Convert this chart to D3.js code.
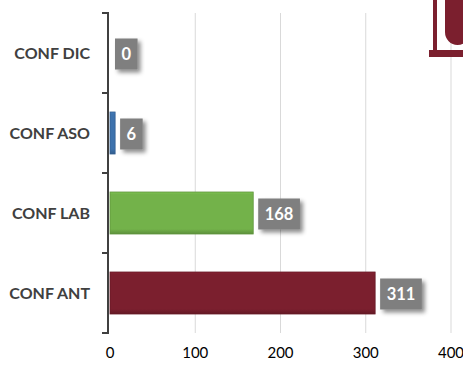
<!DOCTYPE html>
<html>
<head>
<meta charset="utf-8">
<script src="https://cdn.jsdelivr.net/npm/d3@7"></script>
<style>
  body { margin: 0; background: #fff; }
  svg { display: block; font-family: Lato, "Open Sans", sans-serif; }
</style>
</head>
<body>
<script>
// chart data
const categories = ['CONF DIC', 'CONF ASO', 'CONF LAB', 'CONF ANT'];
const values = [0, 6, 168, 311];
const barColors = ['#4f81bd', '#3d72ad', '#73b24a', '#7b1f2e'];
const xTicks = [0, 100, 200, 300, 400];

const W = 463, H = 369;
const plot = { left: 110, right: 451, top: 13, bottom: 333 };

const svg = d3.select('body').append('svg')
  .attr('width', W)
  .attr('height', H);

const defs = svg.append('defs');
const shadow = defs.append('filter').attr('id', 'shadow')
  .attr('x', '-30%').attr('y', '-30%').attr('width', '160%').attr('height', '160%');
shadow.append('feDropShadow')
  .attr('dx', 3).attr('dy', 3).attr('stdDeviation', 2)
  .attr('flood-color', '#000').attr('flood-opacity', 0.45);

// gradients for the bars: flat body, darker bottom edge
barColors.forEach((c, i) => {
  const g = defs.append('linearGradient').attr('id', 'grad' + i)
    .attr('x1', 0).attr('y1', 0).attr('x2', 0).attr('y2', 1);
  const base = d3.color(c);
  g.append('stop').attr('offset', '0%').attr('stop-color', base.brighter(0.25));
  g.append('stop').attr('offset', '6%').attr('stop-color', base);
  g.append('stop').attr('offset', '88%').attr('stop-color', base);
  g.append('stop').attr('offset', '100%').attr('stop-color', base.darker(0.6));
});

const x = d3.scaleLinear().domain([0, 400]).range([plot.left, plot.right]);
const yOuter = d3.scaleBand().domain(categories).range([plot.top, plot.bottom]);
const y = d3.scaleBand().domain(categories).range([plot.top, plot.bottom])
  .paddingInner(0.475).paddingOuter(0.2375);

// vertical gridlines
svg.append('g')
  .selectAll('line')
  .data(xTicks.slice(1))
  .join('line')
  .attr('x1', d => x(d)).attr('x2', d => x(d))
  .attr('y1', plot.top).attr('y2', plot.bottom)
  .attr('stroke', '#d9d9d9').attr('stroke-width', 1);

// x tick labels
svg.append('g')
  .selectAll('text')
  .data(xTicks)
  .join('text')
  .attr('x', d => x(d))
  .attr('y', 358)
  .attr('text-anchor', 'middle')
  .attr('font-size', 15)
  .attr('fill', '#000')
  .text(d => d);

// bars
svg.append('g')
  .selectAll('rect')
  .data(categories)
  .join('rect')
  .attr('x', x(0))
  .attr('y', d => y(d))
  .attr('width', (d, i) => x(values[i]) - x(0))
  .attr('height', y.bandwidth())
  .attr('fill', (d, i) => `url(#grad${i})`)
  .attr('stroke', (d, i) => d3.color(barColors[i]).darker(0.5))
  .attr('stroke-width', (d, i) => values[i] > 0 ? 0.8 : 0);

// y axis line and boundary ticks
const yAxis = svg.append('g');
const bounds = categories.map(c => yOuter(c)).concat([plot.bottom]);
yAxis.append('line')
  .attr('x1', 108).attr('x2', 108)
  .attr('y1', plot.top).attr('y2', plot.bottom)
  .attr('stroke', '#404040').attr('stroke-width', 2);
yAxis.selectAll('line.tick')
  .data(bounds)
  .join('line')
  .attr('class', 'tick')
  .attr('x1', 102).attr('x2', 109)
  .attr('y1', d => d).attr('y2', d => d)
  .attr('stroke', '#404040').attr('stroke-width', 2);

// category labels
svg.append('g')
  .selectAll('text')
  .data(categories)
  .join('text')
  .attr('x', 90)
  .attr('y', d => y(d) + y.bandwidth() / 2)
  .attr('dy', '0.36em')
  .attr('text-anchor', 'end')
  .attr('font-size', 16)
  .attr('font-weight', 'bold')
  .attr('fill', '#404040')
  .text(d => d);

// data labels in grey boxes
const labels = svg.append('g')
  .selectAll('g')
  .data(categories)
  .join('g')
  .attr('transform', (d, i) => `translate(${x(values[i]) + 5},${y(d) + y.bandwidth() / 2 + 1})`);

labels.each(function (d, i) {
  const g = d3.select(this);
  const rect = g.append('rect').attr('fill', '#7f7f7f').attr('filter', 'url(#shadow)');
  const t = g.append('text')
    .attr('font-size', 16.5)
    .attr('font-weight', 'bold')
    .attr('fill', '#fff')
    .attr('dy', '0.36em')
    .text(values[i]);
  const w = t.node().getComputedTextLength() + 13;
  rect.attr('x', 0).attr('y', -15.5).attr('width', w).attr('height', 31);
  t.attr('x', w / 2).attr('text-anchor', 'middle');
});

// logo fragment, top right
const logo = svg.append('g').attr('fill', '#7b1f2e');
logo.append('rect').attr('x', 433).attr('y', 0).attr('width', 4).attr('height', 52);
logo.append('rect').attr('x', 429).attr('y', 50).attr('width', 40).attr('height', 7);
logo.append('path')
  .attr('d', 'M445,0 L470,0 L470,32 A12.5,13 0 0 1 445,32 Z');
</script>
</body>
</html>
